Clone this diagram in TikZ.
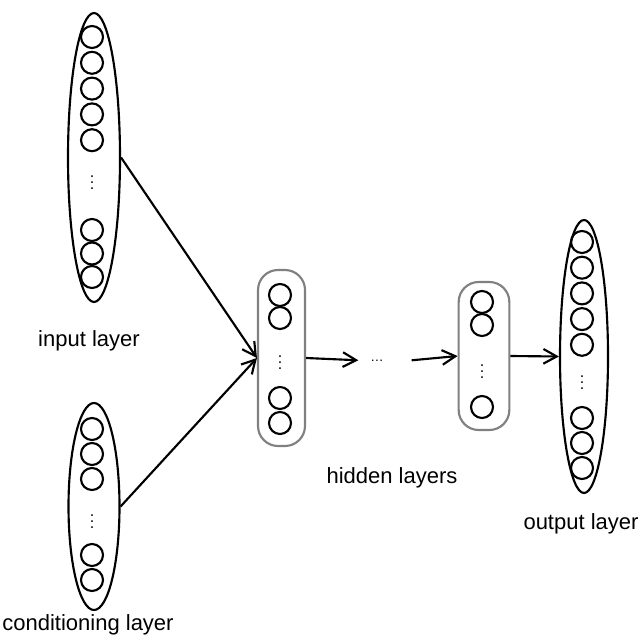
\documentclass[tikz,border=0pt]{standalone}
\usepackage{fontspec}
\setmainfont{Liberation Sans}
\usetikzlibrary{arrows.meta,shapes.geometric,positioning}

\newcommand{\vdotz}{\vbox{\baselineskip=4.6pt\lineskiplimit=0pt\hbox{.}\hbox{.}\hbox{.}}}

\begin{document}
\begin{tikzpicture}[
    x=0.75pt, y=-0.75pt,
    every node/.style={font=\fontsize{16.5}{20}\selectfont},
    layer/.style={ellipse, draw, line width=1.6pt, inner sep=0pt},
    hidbox/.style={rectangle, rounded corners=15pt, draw=black!50, line width=1.6pt, inner sep=0pt},
    unit/.style={circle, draw, line width=1.6pt, inner sep=0pt, minimum size=16.5pt},
    vdts/.style={inner sep=0pt, font=\fontsize{12}{12}\selectfont},
    lbl/.style={anchor=base, inner sep=0pt},
    arr/.style={-{Straight Barb[length=10pt,width=11pt]}, line width=1.6pt}
  ]
    \useasboundingbox (0,0) rectangle (640,641);

    % Input layer
    \node[layer, minimum width=39pt, minimum height=216.75pt] (input) at (94,157.5) {};
    \foreach \y [count=\i] in {37,62.8,88.6,114.4,140.2,230,253.5,277}
      \node[unit] (in\i) at (92,\y) {};
    \node[vdts] (indots) at (92,183) {\vdotz};
    \node[lbl] (inlbl) at (89,346) {input layer};

    % Conditioning layer
    \node[layer, minimum width=38.25pt, minimum height=155.25pt] (cond) at (94,506.5) {};
    \foreach \y [count=\i] in {429,454,479,555,580}
      \node[unit] (cd\i) at (92,\y) {};
    \node[vdts] (cddots) at (92,522) {\vdotz};
    \node[lbl] (cdlbl) at (88,630) {conditioning layer};

    % Hidden layers
    \node[hidbox, minimum width=35.25pt, minimum height=132pt] (hid1) at (281.5,358) {};
    \foreach \y [count=\i] in {295,318,398,423}
      \node[unit] (ha\i) at (280,\y) {};
    \node[vdts] (hadots) at (280,363) {\vdotz};

    \node[inner sep=0pt, anchor=base, font=\fontsize{10}{12}\selectfont] (hdots) at (377,361) {\textellipsis};

    \node[hidbox, minimum width=38pt, minimum height=111pt] (hid2) at (484,356) {};
    \foreach \y [count=\i] in {302,325,407}
      \node[unit] (hb\i) at (482,\y) {};
    \node[vdts] (hbdots) at (482,372) {\vdotz};
    \node[lbl] (hidlbl) at (392,483) {hidden layers};

    % Output layer
    \node[layer, minimum width=36pt, minimum height=204.75pt] (output) at (584,356.5) {};
    \foreach \y [count=\i] in {242,267.7,293.4,319.1,344.8,418,443,468}
      \node[unit] (out\i) at (582,\y) {};
    \node[vdts] (outdots) at (582,383) {\vdotz};
    \node[lbl] (outlbl) at (581,529) {output layer};

    % Connections
    \draw[arr] (input.east) -- (hid1.west);
    \draw[arr] (cond.east) -- (hid1.west);
    \draw[arr] (hid1.east) -- ([xshift=-14pt]hdots.center);
    \draw[arr] ([xshift=26pt]hdots.center) -- (hid2.west);
    \draw[arr] (hid2.east) -- (output.west);

  \end{tikzpicture}
\end{document}
